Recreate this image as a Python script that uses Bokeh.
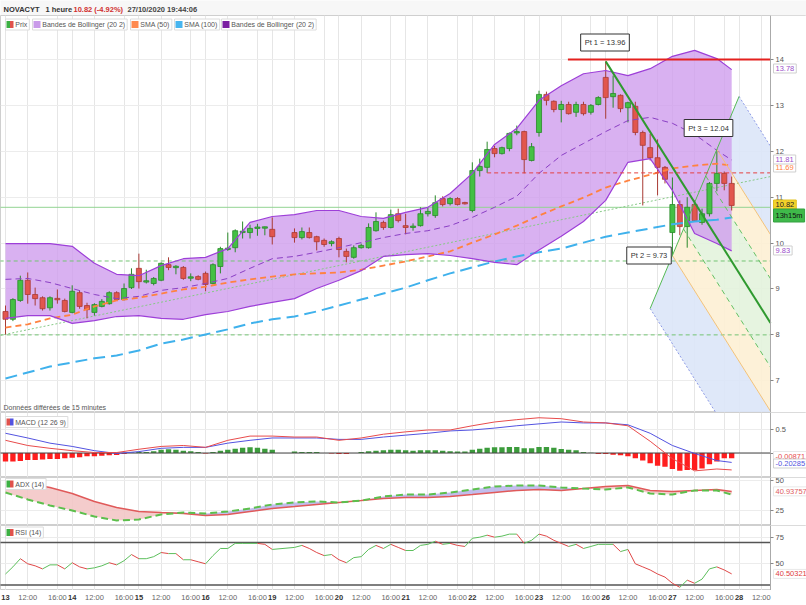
import numpy as np
from bokeh.plotting import figure
from bokeh.layouts import column
from bokeh.models import (Range1d, FixedTicker, Label, GlobalInlineStyleSheet, ColumnDataSource,
                          LinearAxis, BoxAnnotation)
from bokeh.embed import file_html
from bokeh.resources import INLINE
from bokeh.core.properties import value

FONT = "Liberation Sans"
NB = "\u00a0"

# ---------------- data ----------------
day_names = ["13", "14", "15", "16", "19", "20", "21", "22", "23", "26", "27", "28"]
candles_per_day = 9

open_ = [8.51, 8.34, 8.75, 9.19, 8.88, 8.81, 8.59, 8.79, 8.75, 8.49,
         8.92, 8.64, 8.49, 8.62, 8.68, 8.92, 8.77, 9.03, 9.45, 9.15,
         9.12, 9.19, 9.53, 9.47, 9.47, 9.24, 9.27, 9.34, 9.12, 9.49,
         9.86, 9.90, 10.23, 10.23, 10.32, 10.33, 10.30, None, None, 10.23,
         10.12, 10.23, 10.14, 10.06, 9.99, 10.10, 9.82, 9.69, 9.90, 9.90,
         10.27, 10.45, 10.34, 10.64, 10.38, 10.35, 10.38, 10.64, 10.60, 10.97,
         10.86, 10.97, 10.88, 10.71, 11.58, 11.65, 12.06, 11.95, 12.06, 12.41,
         12.43, 11.80, 12.41, 13.24, 13.09, 12.91, 13.02, 12.85, 13.02, 12.85,
         13.02, 13.61, 13.19, 13.22, 12.95, 12.98, 12.41, 12.08, 11.86, 11.65,
         10.23, 10.84, 10.36, 10.84, 10.45, 10.64, 11.30, 11.52, 11.30]
high_ = [8.64, 8.80, 9.29, 9.36, 9.03, 8.84, 8.84, 8.99, 8.79, 9.08,
         8.96, 8.70, 8.69, 8.78, 8.95, 8.95, 9.12, 9.45, 9.77, 9.42,
         9.26, 9.58, 9.69, 9.52, 9.50, 9.34, 9.30, 9.38, 9.56, 9.92,
         10.23, 10.30, 10.47, 10.40, 10.42, 10.36, 10.56, None, None, 10.32,
         10.34, 10.34, 10.16, 10.10, 10.06, 10.14, 9.88, 9.95, 9.99, 10.43,
         10.67, 10.49, 10.73, 10.75, 10.64, 10.43, 10.78, 10.77, 11.04, 11.02,
         11.00, 11.00, 10.90, 11.76, 11.84, 12.21, 12.12, 12.10, 12.41, 12.56,
         12.45, 12.18, 13.32, 13.30, 13.11, 13.10, 13.08, 13.08, 13.08, 13.03,
         13.20, 13.96, 13.65, 13.24, 13.08, 13.08, 12.45, 12.38, 12.26, 11.68,
         11.43, 10.93, 11.00, 10.93, 10.75, 11.33, 12.04, 11.56, 11.45]
low_ = [8.01, 8.30, 8.72, 8.68, 8.64, 8.53, 8.53, 8.68, 8.49, 8.47,
        8.57, 8.36, 8.42, 8.60, 8.66, 8.75, 8.75, 9.00, 9.01, 9.12,
        9.08, 9.17, 9.41, 9.32, 9.20, 9.17, 9.19, 8.95, 9.10, 9.34,
        9.83, 9.80, 10.10, 10.10, 10.16, 10.17, 9.97, None, None, 10.01,
        10.08, 10.10, 9.84, 9.92, 9.93, 9.69, 9.58, 9.66, 9.88, 9.88,
        10.25, 10.29, 10.32, 10.45, 10.19, 10.27, 10.36, 10.58, 10.55, 10.80,
        10.82, 10.82, 10.84, 10.67, 11.45, 11.53, 11.87, 11.93, 12.00, 12.35,
        11.52, 11.78, 12.32, 13.00, 12.85, 12.63, 12.80, 12.75, 12.78, 12.80,
        13.00, 12.71, 12.95, 12.85, 12.63, 12.35, 10.82, 11.80, 11.04, 11.30,
        9.73, 10.17, 9.90, 10.47, 10.40, 10.58, 11.13, 11.15, 10.71]
close_ = [8.34, 8.77, 9.19, 8.88, 8.79, 8.57, 8.81, 8.77, 8.51, 8.95,
          8.62, 8.55, 8.66, 8.73, 8.92, 8.77, 9.01, 9.32, 9.16, 9.18,
          9.23, 9.56, 9.47, 9.49, 9.23, 9.26, 9.21, 9.10, 9.53, 9.88,
          9.89, 10.27, 10.26, 10.32, 10.35, 10.35, 10.14, None, None, 10.12,
          10.25, 10.12, 10.03, 9.97, 10.03, 9.86, 9.71, 9.90, 9.95, 10.34,
          10.47, 10.34, 10.62, 10.49, 10.34, 10.36, 10.64, 10.69, 10.88, 10.84,
          10.97, 10.84, 10.86, 11.58, 11.67, 12.04, 11.95, 12.08, 12.39, 12.42,
          11.82, 12.10, 13.24, 13.11, 12.91, 13.02, 12.82, 13.02, 12.82, 13.00,
          13.17, 13.17, 13.26, 12.93, 13.06, 12.41, 12.13, 11.86, 11.65, 11.39,
          10.84, 10.36, 10.78, 10.49, 10.64, 11.30, 11.52, 11.30, 10.82]

# indicator readings (sampled at these candle indices)
sample_idx = [0, 3, 6, 9, 12, 15, 18, 21, 24, 27, 30, 33, 36, 39, 42, 45, 48,
              51, 54, 57, 60, 63, 66, 69, 72, 75, 78, 81, 84, 87, 90, 93, 96, 98]
bb_upper = [9.99, 9.99, 9.99, 9.93, 9.56, 9.32, 9.29, 9.51, 9.66, 9.69, 9.88, 10.45, 10.58, 10.62, 10.71, 10.71, 10.58,
            10.54, 10.67, 10.78, 11.08, 11.52, 12.15, 12.50, 13.11, 13.43, 13.69, 13.76, 13.65, 13.80, 14.07, 14.20, 14.02, 13.78]
bb_mid = [9.21, 9.23, 9.14, 9.01, 8.88, 8.79, 8.84, 8.97, 9.03, 9.12, 9.23, 9.45, 9.66, 9.71, 9.80, 9.90, 10.01,
          10.12, 10.21, 10.27, 10.38, 10.56, 10.78, 11.02, 11.52, 11.91, 12.17, 12.43, 12.67, 12.74, 12.61, 12.37, 12.02, 11.81]
bb_lower = [8.36, 8.42, 8.42, 8.25, 8.31, 8.40, 8.42, 8.36, 8.34, 8.44, 8.51, 8.62, 8.71, 8.79, 9.01, 9.19, 9.40,
            9.71, 9.75, 9.77, 9.73, 9.66, 9.58, 9.53, 9.85, 10.15, 10.47, 10.93, 11.76, 11.84, 11.15, 10.21, 9.99, 9.83]
sma50 = [8.16, 8.23, 8.36, 8.44, 8.62, 8.75, 8.81, 8.90, 8.99, 9.05, 9.14, 9.21, 9.27, 9.32, 9.34, 9.36, 9.42,
         9.51, 9.60, 9.71, 9.82, 10.01, 10.19, 10.38, 10.60, 10.80, 10.99, 11.21, 11.36, 11.49, 11.63, 11.69, 11.73, 11.69]
sma100 = [7.05, 7.18, 7.31, 7.40, 7.49, 7.55, 7.66, 7.81, 7.90, 8.01, 8.12, 8.25, 8.34, 8.40, 8.51, 8.64, 8.77,
          8.90, 9.03, 9.19, 9.34, 9.47, 9.60, 9.71, 9.80, 9.88, 10.01, 10.14, 10.23, 10.32, 10.41, 10.47, 10.51, 10.56]
macd_line = [0.27, 0.16, 0.10, 0.05, 0.01, 0.01, 0.08, 0.14, 0.16, 0.12, 0.27, 0.36, 0.36, 0.34, 0.34, 0.27, 0.32,
             0.40, 0.45, 0.49, 0.49, 0.58, 0.66, 0.71, 0.75, 0.73, 0.66, 0.64, 0.58, 0.25, -0.12, -0.38, -0.34, -0.36]
macd_signal = [0.42, 0.32, 0.21, 0.14, 0.05, -0.01, 0.03, 0.10, 0.12, 0.12, 0.21, 0.27, 0.32, 0.32, 0.32, 0.29, 0.29,
               0.34, 0.38, 0.42, 0.47, 0.49, 0.53, 0.58, 0.62, 0.66, 0.64, 0.64, 0.60, 0.42, 0.16, -0.01, -0.16, -0.20]
macd_hist = [-0.18, -0.18, -0.17, -0.15, -0.15, -0.14, -0.13, -0.13, -0.11, -0.10,
             -0.09, -0.07, -0.07, -0.06, -0.05, -0.04, -0.02, 0.01, 0.02, 0.02,
             0.04, 0.07, 0.08, 0.07, 0.05, 0.04, 0.02, -0.01, 0.02, 0.05,
             0.07, 0.09, 0.11, 0.12, 0.11, 0.09, 0.07, None, None, 0.03,
             0.02, 0.02, 0.02, 0.00, -0.01, -0.02, -0.02, 0.00, 0.02, 0.04,
             0.05, 0.06, 0.07, 0.07, 0.06, 0.05, 0.06, 0.06, 0.06, 0.05,
             0.04, 0.03, 0.03, 0.07, 0.09, 0.11, 0.12, 0.12, 0.13, 0.13,
             0.10, 0.10, 0.13, 0.13, 0.11, 0.087, 0.072, 0.057, 0.02, 0.005,
             -0.022, -0.022, -0.037, -0.05, -0.07, -0.11, -0.16, -0.22, -0.27, -0.29,
             -0.34, -0.38, -0.36, -0.36, -0.33, -0.24, -0.18, -0.11, -0.11]
adx_red = [48.3, 47.5, 44.2, 39.2, 32.5, 27.5, 24.2, 23.3, 22.5, 20.8, 21.7, 24.2, 26.7, 28.3, 30.0, 31.7, 33.3,
           35.0, 35.8, 35.8, 36.7, 38.3, 40.0, 41.7, 42.5, 41.7, 43.3, 45.0, 45.8, 41.7, 40.8, 41.7, 42.5, 40.9]
adx_green = [40.0, 34.2, 29.2, 25.0, 20.0, 16.7, 17.5, 21.7, 23.3, 22.5, 24.2, 26.7, 30.0, 31.7, 32.5, 31.7, 33.3,
             36.7, 38.3, 38.3, 40.0, 42.5, 45.0, 45.8, 45.8, 44.2, 43.3, 42.5, 44.2, 39.2, 38.3, 41.7, 41.7, 38.3]
rsi = [40.4, 47.1, 54.8, 50.0, 48.1, 45.2, 49.0, 49.0, 45.2, 51.0,
       47.1, 45.2, 46.2, 48.1, 51.0, 49.0, 52.9, 58.7, 54.8, 54.8,
       56.7, 60.6, 59.6, 59.6, 53.8, 53.8, 51.9, 50.0, 57.7, 64.4,
       64.4, 69.2, 69.2, 69.2, 69.2, 68.3, 63.5, None, None, 65.4,
       67.3, 64.4, 60.6, 57.7, 58.7, 53.8, 51.0, 55.8, 56.7, 63.5,
       67.3, 64.4, 68.3, 65.4, 62.5, 62.5, 67.3, 68.3, 71.2, 68.3,
       69.2, 67.3, 66.3, 74.0, 75.0, 76.9, 75.0, 76.0, 77.9, 77.9,
       69.2, 72.1, 77.9, 76.0, 72.1, 69.2, 66.3, 68.3, 64.4, 66.3,
       68.3, 68.3, 68.3, 61.5, 63.5, 50.0, 47.1, 44.2, 40.4, 37.5,
       31.7, 27.9, 34.6, 31.7, 35.6, 45.2, 47.1, 44.2, 40.5]

# drawing tools
pitch_x = [81, 90, 96]            # Pt 1, Pt 2, Pt 3 (candle index)
pitch_y = [13.96, 9.73, 12.04]
pitch_names = ["Pt 1 = 13.96", "Pt 2 = 9.73", "Pt 3 = 12.04"]
resist_level, resist_from = 14.0, 75.9
red_dash_level, red_dash_from = 11.53, 65
green_solid_level = 10.78
green_dash_levels = [9.61, 8.0]
trend_x = [-0.68, 103.24]
trend_y = [7.99, 11.45]

# ---------------- frame geometry ----------------
W_PLOT, W_TOTAL = 770, 806
X_LO, X_HI = -0.675, 103.24           # data span of the 770 px chart area
X_END = X_LO + W_TOTAL / W_PLOT * (X_HI - X_LO)
MAIN_T, MAIN_B, MAIN_LO, MAIN_HI = 15, 412, 6.309, 14.959
MACD_T, MACD_B, MACD_LO, MACD_HI = 412, 477, -0.521, 0.862
ADX_T, ADX_B, ADX_LO, ADX_HI = 477, 525, 12.5, 52.5
RSI_T, RSI_B, RSI_LO, RSI_HI = 525, 590, 24.9, 86.0


def px2x(px):
    return X_LO + px / W_PLOT * (X_HI - X_LO)


def py2y(py, t, b, lo, hi):
    return hi - (py - t) / (b - t) * (hi - lo)


def mpy(py):
    return py2y(py, MAIN_T, MAIN_B, MAIN_LO, MAIN_HI)


xr = Range1d(X_LO, X_END)

tick_pos, tick_txt, tick_bold = [], [], []
for k, d in enumerate(day_names):
    for off, t, b in [(0, d, True), (3, "12:00", False), (7, "16:00", False)]:
        pos = k * candles_per_day + off
        if pos <= X_HI:
            tick_pos.append(pos)
            tick_txt.append(t)
            tick_bold.append(b)


def make_fig(t, b, lo, hi, ticks):
    f = figure(frame_width=W_TOTAL, frame_height=b - t, x_range=xr, y_range=Range1d(lo, hi),
               x_axis_location=None, y_axis_location=None, toolbar_location=None,
               output_backend="svg", min_border=0)
    f.xgrid.ticker = FixedTicker(ticks=tick_pos)
    f.ygrid.ticker = FixedTicker(ticks=ticks)
    f.xgrid.grid_line_color = "#e6e6e6"
    f.ygrid.grid_line_color = "#ececec"
    f.outline_line_color = "#cfcfcf"
    f.background_fill_color = "white"
    f.border_fill_color = "white"
    f.add_layout(BoxAnnotation(left=X_HI, fill_color="white", fill_alpha=1.0, line_color=None,
                               level="underlay"))
    ax = LinearAxis(fixed_location=X_HI, ticker=FixedTicker(ticks=ticks))
    ax.major_label_text_font = FONT
    ax.major_label_text_font_size = "7.5px"
    ax.major_label_text_color = "#555555"
    ax.major_tick_in = 0
    ax.major_tick_out = 3
    ax.minor_tick_line_color = None
    ax.major_label_standoff = 2
    ax.axis_line_color = "#aaaaaa"
    ax.major_tick_line_color = "#888888"
    f.add_layout(ax, "right")
    return f


def side_label(f, yv, text, color, bg="white", border="#cfcfcf", px=773):
    f.add_layout(Label(x=px2x(px), y=yv, text=text, text_color=color, text_font=FONT,
                       text_font_size="7.5px", text_baseline="middle", background_fill_color=bg,
                       border_line_color=border, padding=2))


def legend_box(f, ypos, left_px, colors, text):
    f.add_layout(Label(x=px2x(left_px + 2), y=ypos, text=NB * 4 + text, text_color="#555555",
                       text_font=FONT, text_font_size="7px", text_baseline="middle",
                       background_fill_color="white", border_line_color="#dcdcdc", padding=2))
    n = len(colors)
    w = 7.0 / n
    for j, c in enumerate(colors):
        r = f.rect(x=[px2x(left_px + 3 + w / 2 + j * w)], y=[ypos], width=w, height=7,
                   width_units="screen", height_units="screen", fill_color=c, line_color=None)
        r.level = "overlay"


# ---------------- header ----------------
hdr = figure(frame_width=W_TOTAL, frame_height=MAIN_T, x_range=Range1d(0, W_TOTAL), y_range=Range1d(MAIN_T, 0),
             toolbar_location=None, output_backend="svg", min_border=0,
             x_axis_location=None, y_axis_location=None)
hdr.grid.visible = False
hdr.outline_line_color = None
hdr.background_fill_color = "#f7f7f7"
for x0, t, c in [(3, "NOVACYT", "#333333"), (45, "1 heure", "#333333"),
                 (73, "10.82 (-4.92%)", "#d03030"), (127, "27/10/2020 19:44:06", "#444444")]:
    hdr.text(x=[x0], y=[8.5], text=[t], text_font=value(FONT), text_font_size="7.5px",
             text_font_style="bold", text_color=c, text_baseline="middle")

# ---------------- main price panel ----------------
p = make_fig(MAIN_T, MAIN_B, MAIN_LO, MAIN_HI, list(range(7, 15)))

# pitchfork zones
P1 = np.array([pitch_x[0], pitch_y[0]], float)
P2 = np.array([pitch_x[1], pitch_y[1]], float)
P3 = np.array([pitch_x[2], pitch_y[2]], float)
M = (P2 + P3) / 2
dvec = P3 - M
direc = M - P1


def lvl(L):
    return M + L * dvec


def far(S):
    t = (X_HI - S[0]) / direc[0]
    return S + t * direc


for la, lb, col in [(1, 2, "#dbe5f8"), (-2, -1, "#dbe5f8"), (0.5, 1, "#fdf0d4"),
                    (-1, -0.5, "#fdf0d4"), (0, 0.5, "#e3f3dd"), (-0.5, 0, "#e3f3dd")]:
    A, B = lvl(la), lvl(lb)
    A2, B2 = far(A), far(B)
    p.patch(x=[A[0], A2[0], B2[0], B[0]], y=[A[1], A2[1], B2[1], B[1]],
            fill_color=col, fill_alpha=0.9, line_color=None)

# bollinger fill
p.varea(x=sample_idx, y1=bb_lower, y2=bb_upper, fill_color="#d09ded", fill_alpha=0.8)

# horizontal levels and trend
p.line(x=[X_LO - 2, X_HI], y=[green_solid_level] * 2, line_color="#93d493", line_width=1)
for lv in green_dash_levels:
    p.line(x=[X_LO - 2, X_HI], y=[lv, lv], line_color="#74c474", line_width=1, line_dash="4 3")
p.line(x=trend_x, y=trend_y, line_color="#86c986", line_width=1, line_dash="2 2")

# candles
valid = [i for i in range(len(open_)) if open_[i] is not None]
o = np.array([open_[i] for i in valid])
h = np.array([high_[i] for i in valid])
lw = np.array([low_[i] for i in valid])
c = np.array([close_[i] for i in valid])
up = c >= o
btop = np.maximum(o, c)
bbot = np.minimum(o, c)
mid = (btop + bbot) / 2
thin = (btop - bbot) < 0.03
btop = np.where(thin, mid + 0.015, btop)
bbot = np.where(thin, mid - 0.015, bbot)
csrc = ColumnDataSource(dict(x=valid, o=o, h=h, l=lw, c=c, top=btop, bot=bbot,
                             fill=np.where(up, "#44c044", "#e2564e").tolist(),
                             edge=np.where(up, "#2a8a2a", "#a93b35").tolist()))
p.segment(x0="x", y0="l", x1="x", y1="h", line_color="edge", line_width=1, source=csrc)
p.vbar(x="x", width=0.68, top="top", bottom="bot", fill_color="fill", line_color="edge",
       line_width=0.8, source=csrc)

# moving averages & bands
p.line(x=sample_idx, y=sma100, line_color="#3fb1ec", line_width=2, line_dash="12 6")
p.line(x=sample_idx, y=sma50, line_color="#ff8240", line_width=1.8, line_dash="6 4")
p.line(x=sample_idx, y=bb_mid, line_color="#8a3fc4", line_width=1, line_dash="6 4")
p.line(x=sample_idx, y=bb_upper, line_color="#9d3fd8", line_width=1.2)
p.line(x=sample_idx, y=bb_lower, line_color="#9d3fd8", line_width=1.2)

# pitchfork lines
for L, col, dash, wdt in [(2, "#8e9be6", "2 2", 1), (-2, "#8e9be6", "2 2", 1),
                          (1, "#f2c27a", "solid", 1), (-1, "#f2c27a", "solid", 1),
                          (0.5, "#63c063", "5 4", 1), (-0.5, "#63c063", "5 4", 1)]:
    S = lvl(L)
    E = far(S)
    p.line(x=[S[0], E[0]], y=[S[1], E[1]], line_color=col, line_dash=dash, line_width=wdt)
Hs, He = lvl(-2), lvl(2)
p.line(x=[Hs[0], He[0]], y=[Hs[1], He[1]], line_color="#55b955", line_width=1)
E0 = far(M)
p.line(x=[P1[0], E0[0]], y=[P1[1], E0[1]], line_color="#2f9a2f", line_width=2)

# red levels
p.line(x=[resist_from, X_HI], y=[resist_level] * 2, line_color="#e4211e", line_width=2)
p.line(x=[red_dash_from, X_HI], y=[red_dash_level] * 2, line_color="#e44040", line_width=1,
       line_dash="4 3")

# point labels
for (lx, ly), t in zip([(604.5, 42), (648.5, 255), (708, 127.5)], pitch_names):
    p.add_layout(Label(x=px2x(lx), y=mpy(ly), text=t, text_align="center", text_baseline="middle",
                       text_font=FONT, text_font_size="7.5px", text_color="#333333",
                       background_fill_color="white", border_line_color="#333333", padding=4))

# legend
legend_items = [(3, ["#3cb043", "#e0524c"], "Prix"), (30, ["#c99be9"], "Bandes de Bollinger (20 2)"),
                (128, ["#ff8a50"], "SMA (50)"), (172, ["#47b5ef"], "SMA (100)"),
                (219, ["#7b1fa2"], "Bandes de Bollinger (20 2)")]
for lp, cols, t in legend_items:
    legend_box(p, mpy(24), lp, cols, t)

p.add_layout(Label(x=px2x(3), y=mpy(407), text="Données différées de 15 minutes", text_color="#555555",
                   text_font=FONT, text_font_size="7px", text_baseline="middle"))

# right-side value tags
side_label(p, mpy(167), "11.69", "#ff8240")
side_label(p, mpy(68), "13.78", "#9b4dca")
side_label(p, mpy(159), "11.81", "#9b4dca")
side_label(p, mpy(204), "10.82", "#222222", bg="#f3d22a", border="#e0c020")
side_label(p, mpy(215), "13h15m", "#111111", bg="#3fb94a", border="#35a040")
side_label(p, mpy(250), "9.83", "#9b4dca")

# ---------------- MACD ----------------
pm = make_fig(MACD_T, MACD_B, MACD_LO, MACD_HI, [0, 0.5])
hv = [(i, v) for i, v in enumerate(macd_hist) if v is not None]
hx = [a for a, _ in hv]
hy = [b for _, b in hv]
pm.vbar(x=hx, top=hy, bottom=0, width=0.72, line_color=None,
        fill_color=["#3c9c3c" if v >= 0 else "#ff1e1e" for v in hy])
pm.line(x=[X_LO - 2, X_HI], y=[0, 0], line_color="#444444", line_width=1)
pm.line(x=sample_idx, y=macd_signal, line_color="#5353e0", line_width=1)
pm.line(x=sample_idx, y=macd_line, line_color="#e84b4b", line_width=1)
legend_box(pm, py2y(421.5, MACD_T, MACD_B, MACD_LO, MACD_HI), 3, ["#e0524c", "#5353e0"], "MACD (12 26 9)")
side_label(pm, py2y(455.5, MACD_T, MACD_B, MACD_LO, MACD_HI), "-0.00871", "#e84b4b", border="#e8e8e8")
side_label(pm, py2y(463, MACD_T, MACD_B, MACD_LO, MACD_HI), "-0.20285", "#5353e0")

# ---------------- ADX ----------------
pa = make_fig(ADX_T, ADX_B, ADX_LO, ADX_HI, [25, 50])
ar = np.array(adx_red)
ag = np.array(adx_green)
top = np.maximum(ar, ag)
pa.varea(x=sample_idx, y1=ag, y2=top, fill_color="#f2c3c3", fill_alpha=0.85)
pa.varea(x=sample_idx, y1=ar, y2=top, fill_color="#b7b2ea", fill_alpha=0.85)
pa.line(x=sample_idx, y=adx_red, line_color="#e05a5a", line_width=1.5)
pa.line(x=sample_idx, y=adx_green, line_color="#5cbf4c", line_width=2, line_dash="7 4")
legend_box(pa, py2y(483.5, ADX_T, ADX_B, ADX_LO, ADX_HI), 3, ["#3cb043", "#e0524c"], "ADX (14)")
side_label(pa, 40.94, "40.93757", "#e06060", border="#e8e8e8")

# ---------------- RSI ----------------
pr = make_fig(RSI_T, RSI_B, RSI_LO, RSI_HI, [50, 75])
for lv in (70, 30):
    pr.line(x=[X_LO - 2, X_HI], y=[lv, lv], line_color="#555555", line_width=1.5)
ri = [i for i, v in enumerate(rsi) if v is not None]
x0 = ri[:-1]
x1 = ri[1:]
y0 = [rsi[i] for i in x0]
y1 = [rsi[i] for i in x1]
pr.segment(x0=x0, y0=y0, x1=x1, y1=y1, line_width=1,
           line_color=["#5cbf5c" if b >= a else "#e04848" for a, b in zip(y0, y1)])
legend_box(pr, py2y(532, RSI_T, RSI_B, RSI_LO, RSI_HI), 3, ["#3cb043", "#e0524c"], "RSI (14)")
side_label(pr, 40.50, "40.50321", "#e04040", border="#e8e8e8")

# ---------------- time axis strip ----------------
ps = figure(frame_width=W_TOTAL, frame_height=14, x_range=xr, y_range=Range1d(0, 1),
            x_axis_location=None, y_axis_location=None, toolbar_location=None, output_backend="svg",
            min_border=0)
ps.grid.visible = False
ps.outline_line_color = None
ps.text(x=[t for t, b in zip(tick_pos, tick_bold) if not b], y=0.5,
        text=[s for s, b in zip(tick_txt, tick_bold) if not b],
        text_font=value(FONT), text_font_size="7.5px", text_color="#666666",
        text_align="center", text_baseline="middle")
ps.text(x=[t for t, b in zip(tick_pos, tick_bold) if b], y=0.5,
        text=[s for s, b in zip(tick_txt, tick_bold) if b],
        text_font=value(FONT), text_font_size="7.5px", text_color="#333333", text_font_style="bold",
        text_align="center", text_baseline="middle")

layout = column(hdr, p, pm, pa, pr, ps, spacing=0,
                stylesheets=[GlobalInlineStyleSheet(css="html, body { margin: 0; padding: 0; }")])

open("out.html", "w").write(file_html(layout, INLINE))
